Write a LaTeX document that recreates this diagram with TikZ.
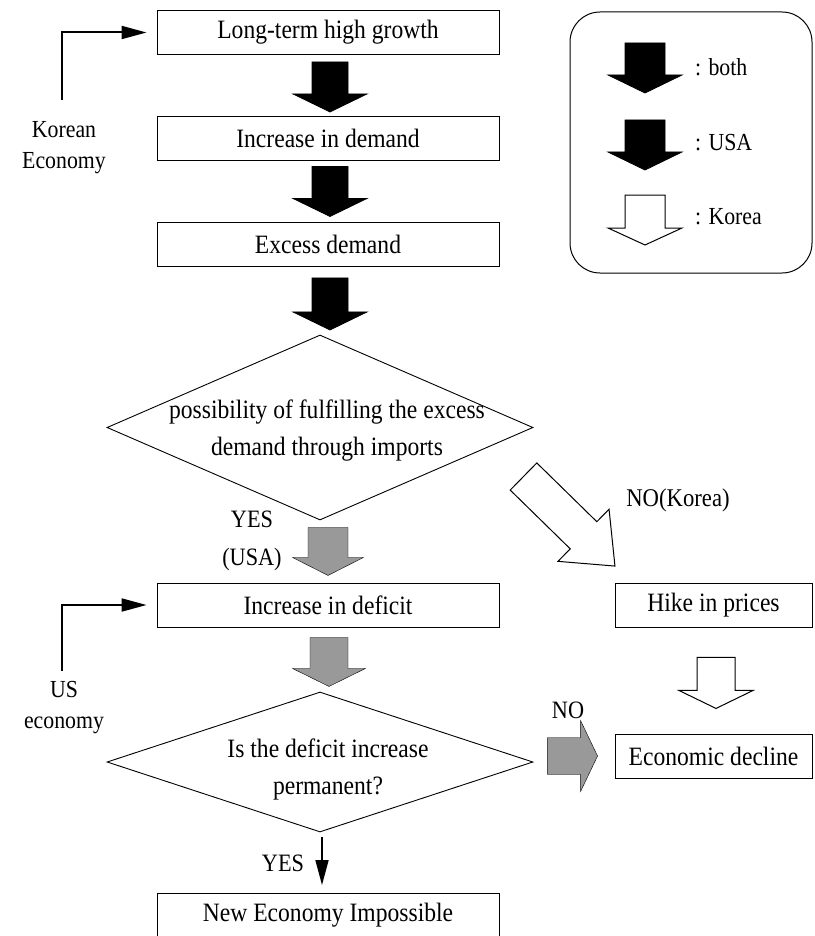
\documentclass[tikz,border=0pt]{standalone}
\usepackage{fontspec}
\setmainfont{Liberation Serif}[FakeStretch=0.89]
\usetikzlibrary{shapes.geometric,arrows.meta,calc}
\definecolor{grayfill}{RGB}{153,153,153}
% #1 style, #2 tail point, #3 angle, #4 shaft length, #5 head length, #6 shaft half width, #7 head half width
\newcommand\fatarrow[7]{%
  \draw[#1,shift={#2},rotate=#3] (0,-#6) -- (#4,-#6) -- (#4,-#7) -- ({#4+#5},0) -- (#4,#7) -- (#4,#6) -- (0,#6) -- cycle;}
\tikzset{
  box/.style={draw, line width=0.9pt, minimum width=342pt, minimum height=44pt, inner sep=0pt, font=\fontsize{26.5}{30}\selectfont},
  rbox/.style={box, minimum width=197pt},
  dia/.style={draw, diamond, line width=0.9pt, inner sep=0pt},
  ditext/.style={font=\fontsize{26.5}{37}\selectfont, align=center, inner sep=0pt},
  lab/.style={font=\fontsize{24.5}{31}\selectfont, align=center, inner sep=0pt},
  leglab/.style={font=\fontsize{24.5}{28}\selectfont, inner sep=0pt, anchor=west},
  farblack/.style={fill=black, draw=black, line width=0.8pt, line join=miter},
  farwhite/.style={fill=white, draw=black, line width=1pt, line join=miter},
  fargray/.style={fill=grayfill},
  bent/.style={line width=2pt, -{Triangle[length=25pt,width=13pt]}, shorten >=10pt},
  thinarr/.style={line width=1.6pt, -{Triangle[length=25pt,width=13pt]}},
}
\begin{document}
\begin{tikzpicture}[x=1pt,y=-1pt]
\useasboundingbox (0,0) rectangle (814,936);

% main column
\node[box] (b1) at (328,32.5) {Long-term high growth};
\node[box] (b2) at (328,138) {Increase in demand};
\node[box] (b3) at (328,244.5) {Excess demand};
\node[dia, minimum width=426pt, minimum height=185pt] (d1) at (320,427.5) {};
\node[ditext] (d1t) at (327,431) {possibility of fulfilling the excess\\demand through imports};
\node[box] (b4) at (328,605) {Increase in deficit};
\node[dia, minimum width=426pt, minimum height=140pt] (d2) at (320,762) {};
\node[ditext] (d2t) at (328,769) {Is the deficit increase\\permanent?};
\node[box] (b5) at (328,915.5) {New Economy Impossible};

% right column
\node[rbox] (h1) at (713.5,605) {Hike in prices};
\node[rbox] (e1) at (713.5,756) {Economic decline};

% side labels
\node[lab] (kor) at (64,148) {Korean\\Economy};
\node[lab] (us) at (64,708) {US\\economy};
\coordinate (kst) at (62,100);
\coordinate (ust) at (62,671);
\draw[bent] (kst) |- (b1.west);
\draw[bent] (ust) |- (b4.west);

% black fat arrows
\fatarrow{farblack}{($(b1.south)+(2,7)$)}{-90}{32}{18}{18}{37}
\fatarrow{farblack}{($(b2.south)+(2,6)$)}{-90}{32}{18}{18}{37}
\fatarrow{farblack}{($(b3.south)+(2,11)$)}{-90}{34}{18}{18}{37}

% YES (USA)
\fatarrow{fargray}{($(d1.south)+(8,7)$)}{-90}{30}{18}{20}{35.5}
\node[lab, font=\fontsize{25}{38}\selectfont] (yesusa) at (252,541) {YES\\(USA)};

% gray arrow deficit -> diamond 2
\fatarrow{fargray}{($(b4.south)+(1,10)$)}{-90}{31}{18}{19}{36.5}

% YES thin arrow
\draw[thinarr] ($(d2.south)+(2,5)$) -- ($(b5.north)+(-6,-8)$);
\node[lab, font=\fontsize{25}{28}\selectfont] (yes2) at (283,863) {YES};

% NO gray arrow to economic decline
\fatarrow{fargray}{($(e1.west)+(-67,0)$)}{0}{33}{17}{18.5}{35.5}
\node[lab, font=\fontsize{25}{28}\selectfont] (no) at (568,710) {NO};

% NO(Korea) white diagonal arrow
\coordinate (kt) at (523.5,476.5);
\fatarrow{farwhite}{(kt)}{-44.4}{84}{44}{19}{36.5}
\node[lab, font=\fontsize{25.5}{28}\selectfont] (nok) at (678,500) {NO(Korea)};

% white arrow hike -> decline
\fatarrow{farwhite}{($(h1.south)+(2.5,30)$)}{-90}{33}{18}{19}{37}

% legend
\node[draw, rounded corners=30pt, line width=1pt, minimum width=242pt, minimum height=261pt, inner sep=0pt] (leg) at (691,142.5) {};
\fatarrow{farblack}{(645,43)}{-90}{32}{18}{20}{37}
\fatarrow{farblack}{(645,120)}{-90}{32}{18}{20}{37}
\fatarrow{farwhite}{(645,195)}{-90}{33}{17}{20}{37}
\node[leglab] (l1) at (695,67) {: both};
\node[leglab] (l2) at (695,143) {: USA};
\node[leglab] (l3) at (695,217) {: Korea};
\end{tikzpicture}
\end{document}
